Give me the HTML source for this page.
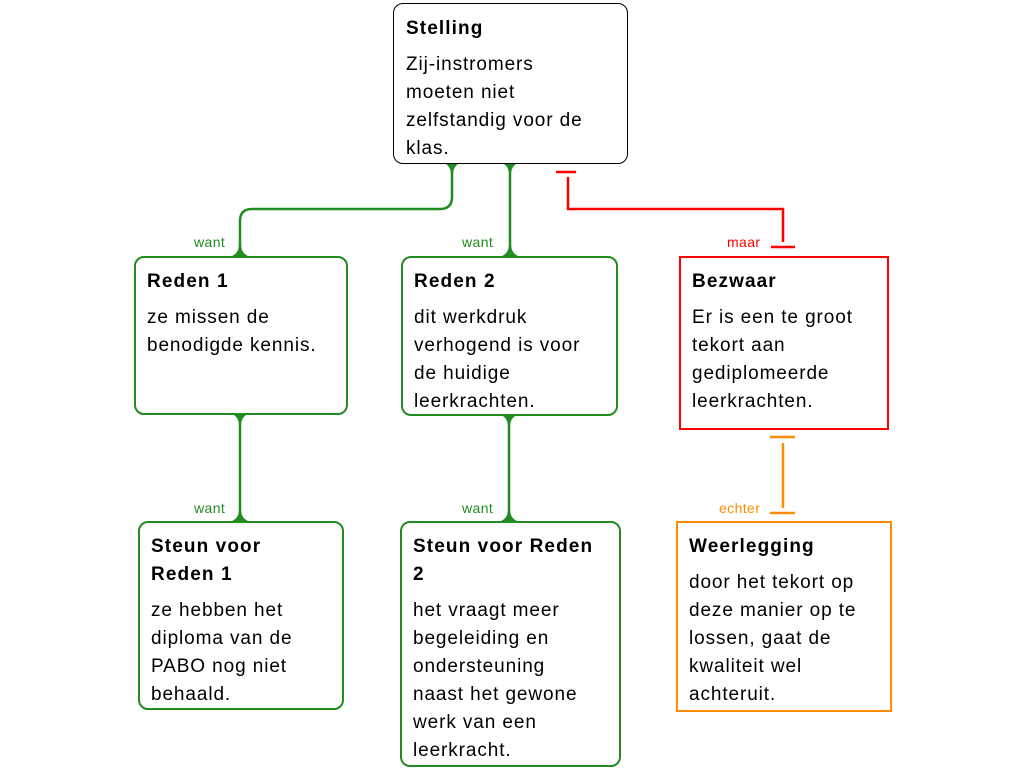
<!DOCTYPE html>
<html><head><meta charset="utf-8"><style>
body{margin:0;width:1024px;height:768px;background:#fff;position:relative;font-family:"Liberation Sans",sans-serif;overflow:hidden}
.b{position:absolute;box-sizing:border-box;padding:10px 0 0 11px;font-size:19px;letter-spacing:0.9px;line-height:28px;color:#000;background:#fff;white-space:nowrap}
.b b{display:block;margin-bottom:8px;letter-spacing:1.1px}
.g{border:2px solid #228b22;border-radius:10px}
.l{position:absolute;font-size:14px;letter-spacing:0.4px}
</style></head><body>
<svg width="1024" height="768" style="position:absolute;left:0;top:0">
<g fill="none" stroke="#228b22" stroke-width="2.5">
<path d="M452 163 V197 Q452 209 440 209 H252 Q240 209 240 221 V256"/>
<path d="M510 163 V256"/>
<path d="M240 414 V521"/>
<path d="M509 415 V521"/>
</g>
<g fill="#228b22">
<path d="M444 163 H460 Q453 166 453 175 H451 Q451 166 444 163Z"/>
<path d="M502 163 H518 Q511 166 511 175 H509 Q509 166 502 163Z"/>
<path d="M232 256 H248 Q241 253 241 244 H239 Q239 253 232 256Z"/>
<path d="M502 256 H518 Q511 253 511 244 H509 Q509 253 502 256Z"/>
<path d="M232 414 H248 Q241 417 241 426 H239 Q239 417 232 414Z"/>
<path d="M232 521 H248 Q241 518 241 509 H239 Q239 518 232 521Z"/>
<path d="M501 415 H517 Q510 418 510 427 H508 Q508 418 501 415Z"/>
<path d="M501 521 H517 Q510 518 510 509 H508 Q508 518 501 521Z"/>
</g>
<g fill="none" stroke="#ff0000" stroke-width="2.5">
<path d="M556 172 H576"/><path d="M568 177 V209 H783 V242"/><path d="M771 247 H795"/>
</g>
<g fill="none" stroke="#ff8c00" stroke-width="2.5">
<path d="M770 437 H795"/><path d="M783 443 V508"/><path d="M770 513 H795"/>
</g>
</svg>
<div class="b" style="left:393px;top:3px;width:235px;height:161px;border:1px solid #000;border-radius:10px;padding-left:12px;padding-top:11px"><b>Stelling</b>Zij-instromers<br>moeten niet<br>zelfstandig voor de<br>klas.</div>
<div class="b g" style="left:134px;top:256px;width:214px;height:159px"><b>Reden 1</b>ze missen de<br>benodigde kennis.</div>
<div class="b g" style="left:401px;top:256px;width:217px;height:160px"><b>Reden 2</b>dit werkdruk<br>verhogend is voor<br>de huidige<br>leerkrachten.</div>
<div class="b" style="left:679px;top:256px;width:210px;height:174px;border:2px solid #ff0000"><b>Bezwaar</b>Er is een te groot<br>tekort aan<br>gediplomeerde<br>leerkrachten.</div>
<div class="b g" style="left:138px;top:521px;width:206px;height:189px"><b>Steun voor<br>Reden 1</b>ze hebben het<br>diploma van de<br>PABO nog niet<br>behaald.</div>
<div class="b g" style="left:400px;top:521px;width:221px;height:246px"><b>Steun voor Reden<br>2</b>het vraagt meer<br>begeleiding en<br>ondersteuning<br>naast het gewone<br>werk van een<br>leerkracht.</div>
<div class="b" style="left:676px;top:521px;width:216px;height:191px;border:2px solid #ff8c00"><b>Weerlegging</b>door het tekort op<br>deze manier op te<br>lossen, gaat de<br>kwaliteit wel<br>achteruit.</div>
<div class="l" style="left:194px;top:234px;color:#228b22">want</div>
<div class="l" style="left:462px;top:234px;color:#228b22">want</div>
<div class="l" style="left:727px;top:234px;color:#ff0000">maar</div>
<div class="l" style="left:194px;top:500px;color:#228b22">want</div>
<div class="l" style="left:462px;top:500px;color:#228b22">want</div>
<div class="l" style="left:719px;top:500px;color:#ff8c00">echter</div>
</body></html>
